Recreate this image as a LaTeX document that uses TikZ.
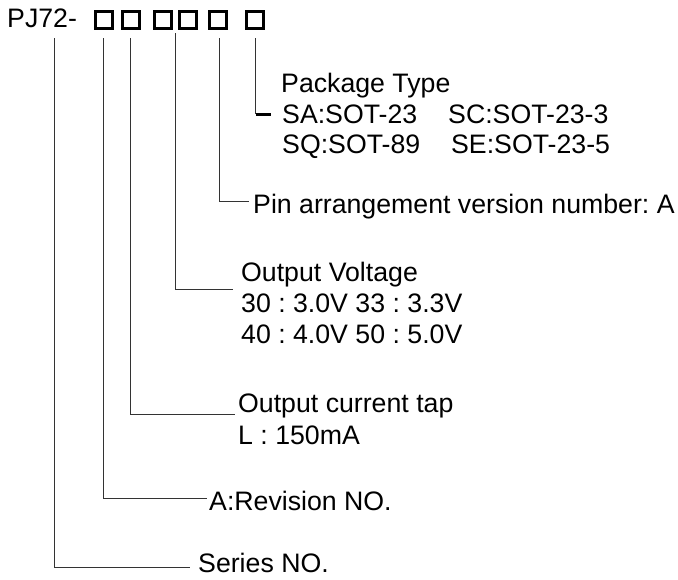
\documentclass[tikz,border=0pt]{standalone}
\usepackage{fontspec}
\setmainfont{Liberation Sans}
\frenchspacing
\usetikzlibrary{positioning}
\tikzset{
  label text/.style={anchor=base west, inner sep=0pt, font=\fontsize{26.7}{31}\selectfont\frenchspacing},
  digit box/.style={draw, line width=3pt, minimum size=17pt, inner sep=0pt},
  lead/.style={line width=1pt, black!80},
}
\begin{document}
\begin{tikzpicture}[x=1pt,y=-1pt]
  \useasboundingbox (0,0) rectangle (678,579);
  % part number and code boxes
  \node[label text] (part) at (7,27) {PJ72-};
  \node[digit box] (b1) at (103.5,19.5) {};
  \node[digit box] (b2) at (131,19.5) {};
  \node[digit box] (b3) at (162.5,19.5) {};
  \node[digit box] (b4) at (187.5,19.5) {};
  \node[digit box] (b5) at (218,19.5) {};
  \node[digit box] (b6) at (255,19.5) {};
  % descriptions
  \node[label text] (pkg) at (281,92) {Package Type};
  \node[label text] (pkgA) at (282,123) {\makebox[166pt][l]{SA:SOT-23}SC:SOT-23-3};
  \node[label text] (pkgB) at (282,153) {\makebox[169pt][l]{SQ:SOT-89}SE:SOT-23-5};
  \node[label text] (pin) at (253,213) {Pin arrangement version number: A};
  \node[label text] (vout) at (241,281) {Output Voltage};
  \node[label text] (voutA) at (241,312) {30 : 3.0V 33 : 3.3V};
  \node[label text] (voutB) at (241,343) {40 : 4.0V 50 : 5.0V};
  \node[label text] (iout) at (238,412) {Output current tap};
  \node[label text] (ioutA) at (238,444) {L : 150mA};
  \node[label text] (rev) at (209,510) {A:Revision NO.};
  \node[label text] (series) at (198,572) {Series NO.};
  % leader lines
  \coordinate (tapS) at (54,38);
  \coordinate (tapR) at (103,38);
  \coordinate (tapI) at (130.5,38);
  \coordinate (tapV) at (175.5,33);
  \coordinate (tapP) at (219,38);
  \coordinate (tapK) at (255.5,38);
  \coordinate (endS) at (190,567.5);
  \coordinate (endR) at (207,498.5);
  \coordinate (endI) at (235,414.5);
  \coordinate (endV) at (233,289.5);
  \coordinate (endP) at (249,201);
  \coordinate (endK) at (255.5,114);
  \draw[lead] (tapS) |- (endS);
  \draw[lead] (tapR) |- (endR);
  \draw[lead] (tapI) |- (endI);
  \draw[lead] (tapV) |- (endV);
  \draw[lead] (tapP) |- (endP);
  \draw[lead] (tapK) -- (endK);
  \draw[line width=3pt] (endK) -- ++(15,0);
\end{tikzpicture}
\end{document}
